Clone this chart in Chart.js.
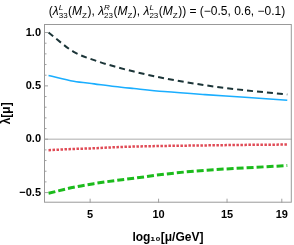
<!DOCTYPE html>
<html>
<head>
<meta charset="utf-8">
<script src="https://cdn.jsdelivr.net/npm/chart.js@4.4.1/dist/chart.umd.min.js"></script>
<style>
  html, body { margin: 0; padding: 0; background: #fff; }
  #wrap { width: 294px; height: 245px; }
</style>
</head>
<body>
<div id="wrap"><canvas id="chart"></canvas></div>
<script>
// --- data ---
const scaleX = [1.96, 3.8, 5.3, 6.8, 8.2, 10.4, 13.4, 16.3, 19.4];
const lam33L = [1.0, 0.819, 0.741, 0.681, 0.634, 0.572, 0.506, 0.459, 0.42];
const lam23R = [0.598, 0.544, 0.519, 0.494, 0.475, 0.447, 0.418, 0.394, 0.365];
const lam23L = [-0.103, -0.091, -0.085, -0.075, -0.069, -0.063, -0.058, -0.053, -0.05];
const lam22L = [-0.507, -0.45, -0.416, -0.388, -0.366, -0.328, -0.291, -0.269, -0.247];
const xTicks = [5, 10, 15, 19];
const yTicks = [-0.5, 0, 0.5, 1.0];
const yMinor = [-0.4, -0.3, -0.2, -0.1, 0.1, 0.2, 0.3, 0.4, 0.6, 0.7, 0.8, 0.9];
const yLabel = 'λ[μ]';

const pts = vals => scaleX.map((x, i) => ({ x: x, y: vals[i] }));
const FONT = '"Liberation Sans", Arial, sans-serif';

// title with sub/superscripts, drawn as text segments
const titleParts = [
  { t: '(' }, { t: 'λ', it: 1 }, { sup: 'L', sub: '33' }, { t: '(' }, { t: 'M', it: 1 }, { sub: 'Z' },
  { t: '), ' }, { t: 'λ', it: 1 }, { sup: 'R', sub: '23' }, { t: '(' }, { t: 'M', it: 1 }, { sub: 'Z' },
  { t: '), ' }, { t: 'λ', it: 1 }, { sup: 'L', sub: '23' }, { t: '(' }, { t: 'M', it: 1 }, { sub: 'Z' },
  { t: ')) = (−0.5, 0.6, −0.1)' }
];

const framePlugin = {
  id: 'frame',
  afterDatasetsDraw(chart) {
    const { ctx, chartArea: a, scales } = chart;
    ctx.save();
    // zero line
    const y0 = scales.y.getPixelForValue(0);
    ctx.strokeStyle = '#c8c8c8';
    ctx.lineWidth = 1.5;
    ctx.beginPath(); ctx.moveTo(a.left, y0); ctx.lineTo(a.right, y0); ctx.stroke();
    // inward ticks
    ctx.strokeStyle = '#a0a0a0';
    ctx.lineWidth = 1;
    ctx.beginPath();
    yTicks.forEach(v => { const y = scales.y.getPixelForValue(v); ctx.moveTo(a.left, y); ctx.lineTo(a.left + 4, y); });
    yMinor.forEach(v => { const y = scales.y.getPixelForValue(v); ctx.moveTo(a.left, y); ctx.lineTo(a.left + 2.5, y); });
    xTicks.forEach(v => { const x = scales.x.getPixelForValue(v); ctx.moveTo(x, a.bottom); ctx.lineTo(x, a.bottom - 4); });
    ctx.stroke();
    // frame
    ctx.strokeStyle = '#999';
    ctx.strokeRect(a.left + 0.5, a.top + 0.5, a.right - a.left - 1, a.bottom - a.top - 1);
    ctx.restore();
  },
  afterDraw(chart) {
    const ctx = chart.ctx;
    const a = chart.chartArea;
    ctx.save();
    ctx.fillStyle = '#000';
    ctx.textBaseline = 'alphabetic';
    const main = size => (size) + 'px ' + FONT;
    const width = p => {
      if (p.t) { ctx.font = (p.it ? 'italic ' : '') + main(12); return ctx.measureText(p.t).width; }
      ctx.font = 'italic ' + main(8);
      return Math.max(ctx.measureText(p.sup || '').width, ctx.measureText(p.sub || '').width) + 0.5;
    };
    const total = titleParts.reduce((s, p) => s + width(p), 0);
    let x = 167 - total / 2;
    const base = 15;
    titleParts.forEach(p => {
      const w = width(p);
      if (p.t) {
        ctx.font = (p.it ? 'italic ' : '') + main(12);
        ctx.fillText(p.t, x, base);
      } else {
        ctx.font = 'italic ' + main(8);
        if (p.sup) ctx.fillText(p.sup, x, base - 5);
        ctx.font = main(8);
        if (p.sub) ctx.fillText(p.sub, x, base + 3);
      }
      x += w;
    });
    ctx.restore();

    // y axis title, rotated, centred on the plot frame
    const cy = (a.top + a.bottom) / 2;
    ctx.save();
    ctx.fillStyle = '#000';
    ctx.font = 'bold ' + main(12);
    ctx.textAlign = 'center';
    ctx.textBaseline = 'middle';
    ctx.setTransform(0, -1, 1, 0, 7, cy);
    ctx.fillText(yLabel, 0, 0);
    ctx.restore();
  }
};

new Chart(document.getElementById('chart'), {
  type: 'line',
  data: {
    datasets: [
      { data: pts(lam33L), borderColor: '#1c3538', borderWidth: 2, borderDash: [6, 4] },
      { data: pts(lam23R), borderColor: '#1aaeff', borderWidth: 1.6 },
      { data: pts(lam23L), borderColor: '#e04a55', borderWidth: 2.5, borderDash: [2.5, 1.5] },
      { data: pts(lam22L), borderColor: '#1cbb1c', borderWidth: 3, borderDash: [7, 3] }
    ]
  },
  options: {
    responsive: true, maintainAspectRatio: false, animation: false,
    layout: { padding: { top: 24, right: 2, left: 0, bottom: 0 } },
    elements: { point: { radius: 0 }, line: { cubicInterpolationMode: 'monotone', fill: false } },
    plugins: { legend: { display: false }, tooltip: { enabled: false } },
    scales: {
      x: {
        type: 'linear', min: 1.63, max: 19.73,
        afterBuildTicks: s => { s.ticks = xTicks.map(v => ({ value: v })); },
        afterFit: s => { s.height = 42.3; },
        grid: { display: false, drawTicks: false },
        border: { display: false },
        ticks: { color: '#000', padding: 6, maxRotation: 0, font: { family: FONT, size: 11, weight: 'bold' } },
        title: { display: true, text: 'log₁₀[μ/GeV]', color: '#000', padding: { top: 2, bottom: 0 },
                 font: { family: FONT, size: 12, weight: 'bold' } }
      },
      y: {
        type: 'linear', min: -0.595, max: 1.08,
        afterBuildTicks: s => { s.ticks = yTicks.map(v => ({ value: v })); },
        afterFit: s => { s.width = 44; },
        grid: { display: false, drawTicks: false },
        border: { display: false },
        ticks: { color: '#000', padding: 3, font: { family: FONT, size: 11, weight: 'bold' },
                 callback: v => (v < 0 ? '−' : '') + Math.abs(v).toFixed(1) }
      }
    }
  },
  plugins: [framePlugin]
});
</script>
</body>
</html>
